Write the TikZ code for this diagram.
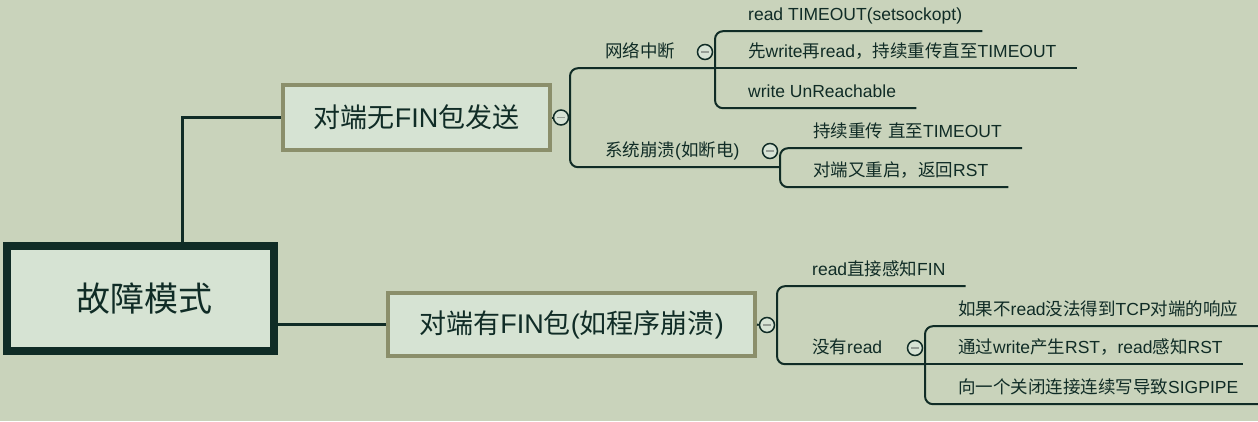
\documentclass[tikz,border=0pt]{standalone}
\usepackage{fontspec}
\setmainfont{Liberation Sans}
\newfontfamily\cjkfont{Noto Sans CJK SC}
\newfontfamily\latinfont{Liberation Sans}
% switch to the CJK font for Chinese characters
\XeTeXinterchartokenstate=1
\chardef\cjkclass=10
\newcount\cjkcode
\cjkcode="4E00\relax
\loop
  \XeTeXcharclass\cjkcode=\cjkclass\relax
  \advance\cjkcode by 1\relax
  \ifnum\cjkcode<"A000\relax
\repeat
\XeTeXcharclass"FF0C=\cjkclass\relax
\XeTeXcharclass"3001=\cjkclass\relax
\XeTeXcharclass"3002=\cjkclass\relax
\XeTeXinterchartoks 0 \cjkclass={\cjkfont}
\XeTeXinterchartoks 1 \cjkclass={\cjkfont}
\XeTeXinterchartoks 2 \cjkclass={\cjkfont}
\XeTeXinterchartoks 3 \cjkclass={\cjkfont}
\XeTeXinterchartoks 4095 \cjkclass={\cjkfont}
\XeTeXinterchartoks \cjkclass 0={\latinfont}
\XeTeXinterchartoks \cjkclass 1={\latinfont}
\XeTeXinterchartoks \cjkclass 2={\latinfont}
\XeTeXinterchartoks \cjkclass 3={\latinfont}
\XeTeXinterchartoks \cjkclass 4095={\latinfont}
\definecolor{paper}{RGB}{201,211,187}
\definecolor{boxfill}{RGB}{214,227,211}
\definecolor{ink}{RGB}{16,44,38}
\definecolor{boxedge}{RGB}{139,143,107}
\definecolor{foldfill}{RGB}{215,227,213}
\definecolor{foldbar}{RGB}{150,158,150}
\begin{document}
\begin{tikzpicture}[x=1pt,y=-1pt, every node/.style={text=ink},
  root/.style={draw=ink,line width=8pt,fill=boxfill,minimum width=267pt,minimum height=105pt,font=\fontsize{34}{40}\selectfont},
  main/.style={draw=boxedge,line width=4pt,fill=boxfill,minimum height=65pt,font=\fontsize{27}{32}\selectfont},
  topic/.style={anchor=base west,inner xsep=0pt,inner ysep=7pt,text height=13pt,text depth=4pt,font=\fontsize{17.5}{21}\selectfont},
  fold/.style={circle,draw=ink,line width=1.5pt,fill=foldfill,minimum size=15pt,inner sep=0pt,path picture={\draw[foldbar,line width=1.5pt] ([xshift=-4pt]path picture bounding box.center) -- ([xshift=4pt]path picture bounding box.center);}},
  trunk/.style={draw=ink,line width=3pt},
  branch/.style={draw=ink,line width=2pt,rounded corners=8pt}]
\fill[paper] (0,0) rectangle (1258,421);
\useasboundingbox (0,0) rectangle (1258,421);
% main topics
\node[root] (root) at (140.5,298.5) {\hspace*{8pt}故障模式};
\node[main,minimum width=267pt] (b1) at (416.5,117.5) {对端无FIN包发送};
\node[main,minimum width=367pt,minimum height=63pt] (b2) at (571.5,324.5) {对端有FIN包(如程序崩溃)};
\draw[trunk] ([xshift=41.5pt]root.north) |- (b1.west);
\draw[trunk] (b2.west) -- (b2.west -| root.east);
% bracket columns
\coordinate (k0) at (570,0);
\coordinate (k1) at (715,0);
\coordinate (k2) at (780,0);
\coordinate (k3) at (777,0);
\coordinate (k4) at (925,0);
% no FIN
\node[topic] (n1) at (605,57) {网络中断};
\node[topic] (n2) at (605,156) {系统崩溃(如断电)};
\node[topic] (t1) at (748,20) {read TIMEOUT(setsockopt)};
\node[topic] (t2) at (748,57) {先write再read，持续重传直至TIMEOUT};
\node[topic] (t3) at (748,97) {write UnReachable};
\node[topic] (s1) at (813,137) {持续重传 直至TIMEOUT};
\node[topic] (s2) at (813,176) {对端又重启，返回RST};
\draw[branch] (n1.south -| k1) -- (n1.south -| k0) -- (n2.south -| k0) -- (n2.south -| k2);
\draw[branch] ([xshift=20pt]t1.south east) -- (t1.south -| k1) -- (t3.south -| k1) -- ([xshift=20pt]t3.south east);
\draw[branch] (t2.south -| k1) -- ([xshift=20pt]t2.south east);
\draw[branch] ([xshift=20pt]s1.south east) -- (s1.south -| k2) -- (s2.south -| k2) -- ([xshift=20pt]s2.south east);
\node[fold] (c1) at (561,117.5) {};
\node[fold] (c2) at (705,52) {};
\node[fold] (c3) at (770,151) {};
\draw[branch] (b1.east) -- (c1.west);
% with FIN
\node[topic] (r1) at (812,275) {read直接感知FIN};
\node[topic] (n3) at (812,353) {没有read};
\node[topic] (u1) at (958,315) {如果不read没法得到TCP对端的响应};
\node[topic] (u2) at (958,353) {通过write产生RST，read感知RST};
\node[topic] (u3) at (958,393) {向一个关闭连接连续写导致SIGPIPE};
\draw[branch] ([xshift=20pt]r1.south east) -- (r1.south -| k3) -- (n3.south -| k3) -- (n3.south -| k4);
\draw[branch] ([xshift=20pt]u1.south east) -- (u1.south -| k4) -- (u3.south -| k4) -- ([xshift=20pt]u3.south east);
\draw[branch] (u2.south -| k4) -- ([xshift=20pt]u2.south east);
\node[fold] (c4) at (767,325) {};
\node[fold] (c5) at (915,348) {};
\draw[branch] (b2.east) -- (c4.west);
\end{tikzpicture}
\end{document}
